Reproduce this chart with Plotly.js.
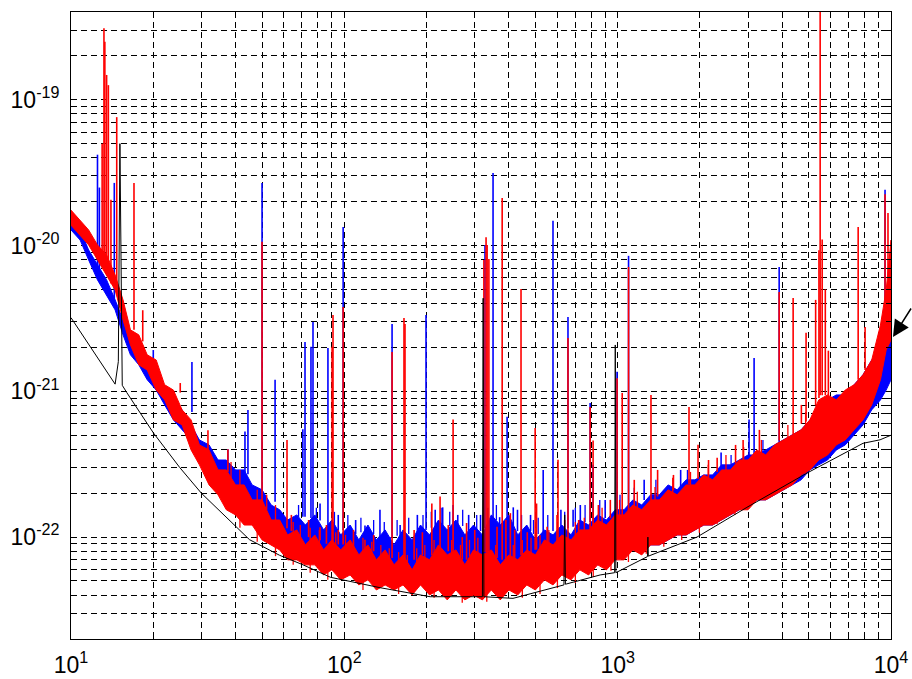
<!DOCTYPE html>
<html>
<head>
<meta charset="utf-8">
<script src="https://cdn.plot.ly/plotly-3.0.1.min.js"></script>
<style>
html,body{margin:0;padding:0;background:#fff;}
#chart{width:912px;height:679px;}
</style>
</head>
<body>
<div id="chart"></div>
<script>
// ---------- data (frequency in Hz, strain amplitude) ----------
// Black: design sensitivity curve
const blackF = [10, 12, 14.5, 14.9, 15.1, 15.4, 16, 20, 25, 30, 40, 45, 58, 70, 89, 135, 206, 314, 320, 322, 324, 414, 631, 636, 640, 644, 863, 975, 980, 985, 1285, 1290, 1295, 1950, 2970, 4930, 7900, 9120, 10000];
const blackA = [3.2e-21, 1.9e-21, 1.12e-21, 1.6e-21, 5.0e-20, 1.1e-21, 9.8e-22, 5.2e-22, 3.0e-22, 2.0e-22, 1.2e-22, 9.6e-23, 7.5e-23, 6.5e-23, 5.3e-23, 4.5e-23, 3.9e-23, 3.9e-23, 3.9e-23, 4.35e-21, 3.9e-23, 3.8e-23, 4.7e-23, 4.7e-23, 1.42e-22, 4.75e-23, 5.5e-23, 5.7e-23, 2.08e-21, 5.7e-23, 7.35e-23, 1.0e-22, 7.4e-23, 1.0e-22, 1.6e-22, 2.75e-22, 4.4e-22, 4.65e-22, 5.0e-22];

// Frequencies at which the noise-floor bands are sampled
const bandF = [10, 10.8, 11.6, 12.5, 13.5, 14.5, 15.5, 16.5, 17.7, 19, 20.5, 22, 23.7, 25.5, 27.5, 29.5, 32, 34.5, 37, 40, 43, 46, 50, 54, 58, 62, 67, 72, 78, 84, 90, 97, 105, 113, 122, 131, 141, 152, 164, 177, 190, 205, 221, 238, 256, 276, 297, 320, 345, 372, 400, 431, 465, 500, 540, 580, 625, 675, 727, 783, 845, 910, 980, 1055, 1137, 1225, 1320, 1420, 1530, 1650, 1780, 1915, 2065, 2225, 2400, 2585, 2785, 3000, 3230, 3480, 3750, 4040, 4350, 4690, 5050, 5440, 5860, 6310, 6800, 7330, 7900, 8500, 9150, 9600, 10000];

// Blue: noise floor band (upper / lower edge)
const blueHi = [1.5e-20, 1.28e-20, 9.33e-21, 7.36e-21, 5.81e-21, 4.24e-21, 3.09e-21, 2.44e-21, 1.92e-21, 1.52e-21, 1.4e-21, 1.02e-21, 8.73e-22, 7.46e-22, 5.88e-22, 4.64e-22, 4.29e-22, 3.38e-22, 3.38e-22, 2.89e-22, 2.89e-22, 2.28e-22, 2.11e-22, 1.66e-22, 1.54e-22, 1.31e-22, 1.42e-22, 1.21e-22, 1.42e-22, 1.12e-22, 1.31e-22, 1.035e-22, 1.21e-22, 9.57e-23, 1.21e-22, 9.57e-23, 1.12e-22, 8.84e-23, 1.12e-22, 9.57e-23, 1.21e-22, 1.035e-22, 1.31e-22, 1.12e-22, 1.31e-22, 1.035e-22, 1.21e-22, 1.035e-22, 1.42e-22, 1.21e-22, 1.42e-22, 1.035e-22, 1.21e-22, 9.57e-23, 1.12e-22, 1.035e-22, 1.21e-22, 1.035e-22, 1.31e-22, 1.21e-22, 1.42e-22, 1.31e-22, 1.54e-22, 1.54e-22, 1.8e-22, 1.66e-22, 1.95e-22, 1.95e-22, 2.28e-22, 2.11e-22, 2.47e-22, 2.47e-22, 2.67e-22, 2.67e-22, 3.13e-22, 3.13e-22, 3.38e-22, 3.66e-22, 3.66e-22, 3.96e-22, 4.29e-22, 4.64e-22, 5.02e-22, 5.44e-22, 6.37e-22, 7.46e-22, 8.73e-22, 9.45e-22, 9.45e-22, 1.11e-21, 1.3e-21, 1.64e-21, 1.92e-21, 2.08e-21, 2.25e-21];
const blueLo = [1.28e-20, 1.09e-20, 7.97e-21, 5.81e-21, 4.58e-21, 3.62e-21, 2.44e-21, 1.78e-21, 1.52e-21, 1.2e-21, 1.02e-21, 8.07e-22, 6.37e-22, 5.44e-22, 4.64e-22, 3.66e-22, 2.89e-22, 2.67e-22, 2.28e-22, 2.11e-22, 1.8e-22, 1.54e-22, 1.42e-22, 1.21e-22, 1.035e-22, 9.57e-23, 8.84e-23, 8.84e-23, 8.17e-23, 8.17e-23, 7.55e-23, 7.55e-23, 7.55e-23, 6.98e-23, 6.98e-23, 6.98e-23, 6.45e-23, 6.45e-23, 5.96e-23, 5.96e-23, 5.96e-23, 5.96e-23, 5.5e-23, 5.5e-23, 5.5e-23, 5.5e-23, 5.5e-23, 5.09e-23, 5.09e-23, 5.5e-23, 5.5e-23, 5.5e-23, 5.5e-23, 5.96e-23, 5.96e-23, 5.96e-23, 6.45e-23, 6.45e-23, 6.45e-23, 6.45e-23, 6.45e-23, 6.98e-23, 6.98e-23, 7.55e-23, 8.17e-23, 8.17e-23, 8.84e-23, 8.84e-23, 9.57e-23, 1.035e-22, 1.035e-22, 1.12e-22, 1.21e-22, 1.21e-22, 1.31e-22, 1.42e-22, 1.54e-22, 1.66e-22, 1.8e-22, 1.8e-22, 1.95e-22, 2.11e-22, 2.28e-22, 2.47e-22, 2.89e-22, 3.13e-22, 3.38e-22, 3.96e-22, 4.29e-22, 5.02e-22, 5.88e-22, 7.46e-22, 8.73e-22, 1.02e-21, 1.2e-21];

// Red: noise floor band (upper / lower edge)
const redHi = [1.75e-20, 1.5e-20, 1.28e-20, 1.01e-20, 8.62e-21, 6.29e-21, 4.24e-21, 2.64e-21, 2.44e-21, 1.78e-21, 1.64e-21, 1.11e-21, 1.02e-21, 7.46e-22, 6.37e-22, 4.29e-22, 3.96e-22, 2.89e-22, 2.89e-22, 2.28e-22, 2.28e-22, 1.8e-22, 1.8e-22, 1.31e-22, 1.31e-22, 1.035e-22, 1.12e-22, 8.84e-23, 1.035e-22, 8.17e-23, 9.57e-23, 8.17e-23, 9.57e-23, 7.55e-23, 8.84e-23, 6.98e-23, 8.17e-23, 6.45e-23, 7.55e-23, 5.96e-23, 7.55e-23, 6.98e-23, 8.84e-23, 7.55e-23, 8.17e-23, 6.45e-23, 8.17e-23, 7.55e-23, 8.17e-23, 6.45e-23, 7.55e-23, 6.98e-23, 8.17e-23, 7.55e-23, 9.57e-23, 8.84e-23, 1.035e-22, 9.57e-23, 1.12e-22, 1.12e-22, 1.31e-22, 1.21e-22, 1.42e-22, 1.42e-22, 1.66e-22, 1.54e-22, 1.8e-22, 1.8e-22, 2.11e-22, 1.95e-22, 2.28e-22, 2.28e-22, 2.67e-22, 2.47e-22, 2.89e-22, 2.89e-22, 3.38e-22, 3.38e-22, 3.96e-22, 3.66e-22, 4.29e-22, 4.64e-22, 5.02e-22, 5.44e-22, 6.37e-22, 8.73e-22, 9.45e-22, 8.73e-22, 1.02e-21, 1.11e-21, 1.3e-21, 1.64e-21, 2.85e-21, 4.96e-21, 1.09e-20];
const redLo = [1.38e-20, 1.18e-20, 1.01e-20, 7.97e-21, 6.29e-21, 4.96e-21, 3.09e-21, 2.08e-21, 1.52e-21, 1.4e-21, 1.02e-21, 8.73e-22, 6.37e-22, 5.88e-22, 3.96e-22, 3.13e-22, 2.28e-22, 1.95e-22, 1.54e-22, 1.42e-22, 1.21e-22, 1.21e-22, 9.57e-23, 8.84e-23, 8.17e-23, 6.98e-23, 6.98e-23, 6.45e-23, 6.45e-23, 5.5e-23, 5.96e-23, 5.09e-23, 5.5e-23, 4.7e-23, 5.09e-23, 4.34e-23, 4.7e-23, 4.34e-23, 4.7e-23, 4.01e-23, 4.7e-23, 4.01e-23, 4.34e-23, 3.71e-23, 4.34e-23, 3.71e-23, 4.01e-23, 3.71e-23, 4.34e-23, 3.71e-23, 4.34e-23, 4.01e-23, 4.7e-23, 4.34e-23, 5.09e-23, 4.7e-23, 5.5e-23, 5.09e-23, 5.96e-23, 5.5e-23, 6.45e-23, 5.96e-23, 6.98e-23, 6.98e-23, 8.17e-23, 7.55e-23, 8.84e-23, 8.84e-23, 9.57e-23, 1.035e-22, 1.035e-22, 1.12e-22, 1.21e-22, 1.21e-22, 1.31e-22, 1.42e-22, 1.54e-22, 1.54e-22, 1.8e-22, 1.8e-22, 1.95e-22, 2.11e-22, 2.28e-22, 2.67e-22, 2.89e-22, 3.38e-22, 3.66e-22, 4.29e-22, 4.64e-22, 5.44e-22, 6.37e-22, 8.07e-22, 1.2e-21, 1.92e-21, 2.25e-21];

// Blue: spectral lines (frequency, peak, foot)
const blueLineF    = [12.5, 12.7, 14.4, 20, 27.7, 37.5, 43.3, 44.4, 50, 55.8, 65, 70.5, 71.8, 75.5, 76.8, 81.5, 87.1, 95, 99, 110, 119, 121, 135, 147, 149.5, 160, 185, 199, 215, 229, 250, 260, 285, 295, 315, 327, 350, 370, 394, 415, 430, 480, 534, 580, 620, 658, 687, 730, 793, 813, 900, 995, 1096, 1250, 1700, 2390, 3025, 3156, 3898, 9510];
const blueLineTop  = [4.2e-20, 2.5e-20, 2.69e-20, 1.92e-21, 1.59e-21, 4.0e-22, 5.3e-22, 7.46e-22, 2.69e-20, 1.2e-21, 1.37e-22, 5.5e-22, 2.18e-21, 2.02e-21, 2.99e-21, 1.7e-22, 1.98e-21, 1.42e-22, 1.34e-20, 1.31e-22, 1.2e-22, 1.17e-22, 1.54e-22, 1.0e-22, 2.9e-21, 1.21e-22, 1.42e-22, 3.34e-21, 1.54e-22, 1.6e-22, 1.66e-22, 1.42e-22, 1.42e-22, 1.15e-22, 1.42e-22, 1.01e-20, 3.15e-20, 1.37e-22, 6.7e-22, 1.6e-22, 1.54e-22, 1.42e-22, 2.89e-22, 1.48e-20, 1.54e-22, 3.24e-21, 1.54e-22, 1.66e-22, 8.3e-22, 3.13e-22, 1.8e-22, 1.36e-21, 8.5e-21, 2.47e-22, 2.89e-22, 3.8e-22, 6.4e-22, 1.69e-21, 7.13e-21, 2.41e-20];
const blueLineFoot = [6.6e-21, 6.3e-21, 4.1e-21, 1.45e-21, 7.2e-22, 3.3e-22, 2.8e-22, 2.7e-22, 2.1e-22, 1.75e-22, 1.3e-22, 1.38e-22, 1.38e-22, 1.35e-22, 1.35e-22, 1.3e-22, 1.2e-22, 1.1e-22, 1.12e-22, 1.05e-22, 1.05e-22, 1.05e-22, 1.0e-22, 9.5e-23, 1.0e-22, 1.0e-22, 1.05e-22, 1.12e-22, 1.1e-22, 1.2e-22, 1.15e-22, 1.1e-22, 1.1e-22, 1.05e-22, 1.1e-22, 1.15e-22, 1.3e-22, 1.2e-22, 1.27e-22, 1.2e-22, 1.1e-22, 1.1e-22, 1.05e-22, 1.1e-22, 1.1e-22, 1.15e-22, 1.18e-22, 1.2e-22, 1.27e-22, 1.28e-22, 1.35e-22, 1.42e-22, 1.6e-22, 1.8e-22, 2.1e-22, 3.0e-22, 3.5e-22, 3.6e-22, 4.5e-22, 2.0e-21];

// Blue: fine noise excursions above the floor (frequency, peak, foot)
const blueFuzzF    = [68, 79, 92, 103, 115, 128, 140, 156, 172, 194, 208, 226, 243, 271, 305, 335, 360, 445, 492, 512, 555, 640, 700, 760, 860, 1020, 1150, 1380, 1800, 2600, 3400];
const blueFuzzTop  = [1.66e-22, 1.59e-22, 1.49e-22, 1.42e-22, 1.36e-22, 1.31e-22, 1.27e-22, 1.31e-22, 1.36e-22, 1.42e-22, 1.49e-22, 1.59e-22, 1.49e-22, 1.54e-22, 1.42e-22, 1.59e-22, 1.66e-22, 1.42e-22, 1.31e-22, 1.36e-22, 1.42e-22, 1.49e-22, 1.59e-22, 1.66e-22, 1.8e-22, 1.95e-22, 2.18e-22, 2.47e-22, 2.89e-22, 3.66e-22, 4.64e-22];
const blueFuzzFoot = [1.37e-22, 1.31e-22, 1.16e-22, 1.12e-22, 1.08e-22, 1.05e-22, 1.02e-22, 1.02e-22, 1.05e-22, 1.12e-22, 1.16e-22, 1.23e-22, 1.19e-22, 1.19e-22, 1.12e-22, 1.23e-22, 1.31e-22, 1.12e-22, 1.05e-22, 1.05e-22, 1.08e-22, 1.16e-22, 1.19e-22, 1.27e-22, 1.36e-22, 1.49e-22, 1.66e-22, 1.89e-22, 2.28e-22, 2.99e-22, 3.78e-22];

// Red: spectral lines (frequency, peak, foot)
const redLineF    = [13.0, 13.2, 13.3, 13.5, 13.7, 14.0, 14.7, 17.0, 18.3, 25.1, 31.7, 37.5, 50, 61.7, 64, 74, 81.5, 86, 90.2, 90.9, 95, 99, 108, 119, 128, 149.5, 165.3, 166.7, 180, 193, 209, 224, 240, 250, 270, 280, 300, 324, 330, 333, 338, 362, 378, 390, 405, 420, 443, 467, 499, 505, 552, 600, 605, 640, 658, 720, 793, 813, 850, 940, 995, 1039, 1096, 1150, 1324, 1400, 1600, 1824, 1968, 2150, 2312, 2700, 2877, 3300, 3898, 4385, 4700, 4890, 5300, 5450, 5506, 5600, 5750, 5900, 7584, 8040, 9510, 9750];
const redLineTop  = [5.0e-20, 3.1e-19, 2.5e-19, 1.48e-19, 1.26e-19, 2.06e-20, 7.6e-20, 2.69e-20, 3.6e-21, 1.14e-21, 5.4e-22, 4.0e-22, 1.06e-20, 4.64e-22, 1.42e-22, 1.31e-22, 1.17e-22, 1.21e-22, 2.02e-21, 3.34e-21, 1.12e-22, 3.79e-21, 1.12e-22, 9.6e-23, 1.035e-22, 1.86e-21, 3.18e-21, 2.9e-21, 1.12e-22, 1.08e-22, 1.7e-22, 1.9e-22, 1.21e-22, 6.4e-22, 1.0e-22, 1.25e-22, 1.12e-22, 7.97e-21, 1.14e-20, 1.01e-20, 8.1e-21, 1.18e-22, 2.12e-20, 1.31e-22, 1.46e-22, 1.12e-22, 5.04e-21, 1.08e-22, 5.6e-22, 1.7e-22, 1.18e-22, 1.42e-22, 3.4e-22, 1.31e-22, 2.32e-21, 1.31e-22, 7.8e-22, 4.6e-22, 1.66e-22, 1.8e-22, 1.23e-21, 9.75e-22, 7.13e-21, 2.47e-22, 9.45e-22, 2.89e-22, 2.67e-22, 7.8e-22, 4.3e-22, 3.38e-22, 3.5e-22, 4.29e-22, 4.64e-22, 5.44e-22, 4.81e-21, 4.37e-21, 8.07e-22, 2.52e-21, 4.24e-21, 9.3e-21, 6.0e-19, 1.1e-20, 5.0e-21, 1.9e-21, 1.34e-20, 2.76e-21, 2.25e-20, 1.67e-20];
const redLineFoot = [7.4e-21, 7.0e-21, 7.0e-21, 6.8e-21, 6.2e-21, 5.5e-21, 4.6e-21, 2.64e-21, 2.2e-21, 9.8e-22, 3.5e-22, 2.8e-22, 1.6e-22, 1.15e-22, 1.1e-22, 1.0e-22, 9.5e-23, 9.0e-23, 9.0e-23, 9.0e-23, 8.9e-23, 8.9e-23, 8.5e-23, 8.2e-23, 8.0e-23, 7.2e-23, 6.5e-23, 6.5e-23, 7.0e-23, 7.5e-23, 7.5e-23, 8.0e-23, 8.0e-23, 7.5e-23, 7.0e-23, 7.0e-23, 7.5e-23, 7.9e-23, 7.9e-23, 7.9e-23, 7.5e-23, 7.2e-23, 7.0e-23, 7.0e-23, 7.0e-23, 7.2e-23, 7.5e-23, 7.5e-23, 8.2e-23, 8.2e-23, 8.6e-23, 9.0e-23, 9.0e-23, 9.3e-23, 9.5e-23, 1.05e-22, 1.15e-22, 1.2e-22, 1.3e-22, 1.35e-22, 1.38e-22, 1.4e-22, 1.5e-22, 1.6e-22, 1.8e-22, 1.9e-22, 2.1e-22, 2.3e-22, 2.5e-22, 2.6e-22, 2.8e-22, 3.2e-22, 3.4e-22, 3.8e-22, 4.6e-22, 5.1e-22, 6.0e-22, 6.2e-22, 8.0e-22, 9.0e-22, 9.4e-22, 9.4e-22, 9.4e-22, 9.4e-22, 1.2e-21, 1.4e-21, 4.3e-21, 6.0e-21];

// Red: fine noise excursions above and below the floor (frequency, tip, foot)
const redFuzzUpF    = [38.5, 41.5, 48, 52, 56, 65, 69, 75, 81, 93, 101, 117, 126, 136, 146, 158, 170, 184, 197, 213, 247, 266, 287, 308, 358, 415, 448, 482, 520, 560, 700, 755, 814, 877, 1016, 1180, 1370, 1590, 1847, 2145, 2490, 2890, 3355, 4195, 4870];
const redFuzzUpTop  = [3.28e-22, 2.89e-22, 2.11e-22, 1.95e-22, 1.66e-22, 1.27e-22, 1.21e-22, 1.16e-22, 1.12e-22, 1.08e-22, 1.035e-22, 9.9e-23, 9.3e-23, 8.84e-23, 8.4e-23, 7.9e-23, 7.55e-23, 8.4e-23, 8.84e-23, 9.57e-23, 9.57e-23, 8.84e-23, 9.57e-23, 9.9e-23, 8.84e-23, 8.84e-23, 9.57e-23, 9.9e-23, 1.035e-22, 1.12e-22, 1.27e-22, 1.36e-22, 1.49e-22, 1.59e-22, 1.8e-22, 2.05e-22, 2.21e-22, 2.55e-22, 2.8e-22, 3.13e-22, 3.66e-22, 4.15e-22, 4.64e-22, 5.88e-22, 7.2e-22];
const redFuzzUpFoot = [2.47e-22, 2.11e-22, 1.66e-22, 1.54e-22, 1.27e-22, 1.0e-22, 9.57e-23, 9.1e-23, 8.84e-23, 8.4e-23, 8.4e-23, 7.8e-23, 7.3e-23, 6.98e-23, 6.7e-23, 6.35e-23, 6.15e-23, 6.45e-23, 6.98e-23, 7.55e-23, 7.55e-23, 7.2e-23, 7.4e-23, 7.8e-23, 6.98e-23, 6.75e-23, 7.3e-23, 7.8e-23, 8.17e-23, 8.84e-23, 1.0e-22, 1.08e-22, 1.17e-22, 1.25e-22, 1.4e-22, 1.59e-22, 1.75e-22, 1.98e-22, 2.25e-22, 2.5e-22, 2.85e-22, 3.28e-22, 3.66e-22, 4.64e-22, 5.6e-22];
const redFuzzDnF    = [41.5, 48, 56, 65, 75, 87, 117, 158, 213, 270, 332, 448, 520, 602, 700, 814, 945, 1095, 1272, 1475, 1715, 1990, 2310, 2685, 3115, 3615, 4195, 4870];
const redFuzzDnTip  = [1.16e-22, 9.3e-23, 7.4e-23, 6.45e-23, 5.7e-23, 5.09e-23, 4.34e-23, 4.07e-23, 3.83e-23, 3.54e-23, 3.6e-23, 3.83e-23, 4.07e-23, 4.47e-23, 4.85e-23, 5.33e-23, 5.87e-23, 6.75e-23, 7.7e-23, 8.6e-23, 9.57e-23, 1.07e-22, 1.23e-22, 1.42e-22, 1.69e-22, 1.95e-22, 2.28e-22, 2.71e-22];
const redFuzzDnFoot = [1.42e-22, 1.12e-22, 8.84e-23, 7.55e-23, 6.7e-23, 5.8e-23, 5.09e-23, 4.7e-23, 4.34e-23, 4.2e-23, 4.2e-23, 4.47e-23, 4.77e-23, 5.25e-23, 5.7e-23, 6.35e-23, 6.98e-23, 7.9e-23, 8.84e-23, 9.9e-23, 1.1e-22, 1.21e-22, 1.4e-22, 1.61e-22, 1.92e-22, 2.21e-22, 2.59e-22, 3.13e-22];

// Axis ticks
const xDecades = [1, 2, 3, 4];
const yDecades = [-22, -21, -20, -19];
const xTickLabels = ['10<sup>1</sup>', '10<sup>2</sup>', '10<sup>3</sup>', '10<sup>4</sup>'];
const yTickLabels = ['10<sup>-22</sup>', '10<sup>-21</sup>', '10<sup>-20</sup>', '10<sup>-19</sup>'];
const mantissas = [1, 2, 3, 4, 5, 6, 7, 8, 9];

// ---------- build traces ----------
function band(F, hi, lo, color) {
  return {
    x: F.concat(F.slice().reverse()),
    y: hi.concat(lo.slice().reverse()),
    type: 'scatter', mode: 'lines', fill: 'toself',
    fillcolor: color, line: {color: color, width: 1},
    hoverinfo: 'skip'
  };
}
function lines(F, top, foot, color, w) {
  const x = [], y = [];
  for (let i = 0; i < F.length; i++) {
    x.push(F[i], F[i], null);
    y.push(foot[i], top[i], null);
  }
  return {x: x, y: y, type: 'scatter', mode: 'lines',
          line: {color: color, width: w}, hoverinfo: 'skip', connectgaps: false};
}

const traces = [
  band(bandF, blueHi, blueLo, '#0000ff'),
  lines(blueFuzzF, blueFuzzTop, blueFuzzFoot, '#0000ff', 1.3),
  lines(blueLineF, blueLineTop, blueLineFoot, '#0000ff', 1.6),
  band(bandF, redHi, redLo, '#ff0000'),
  lines(redFuzzUpF, redFuzzUpTop, redFuzzUpFoot, '#ff0000', 1.3),
  lines(redFuzzDnF, redFuzzDnTip, redFuzzDnFoot, '#ff0000', 1.3),
  lines(redLineF, redLineTop, redLineFoot, '#ff0000', 1.6),
  {x: blackF, y: blackA, type: 'scatter', mode: 'lines',
   line: {color: '#000000', width: 1}, hoverinfo: 'skip'}
];

// tick values (every mantissa → dashed grid; decade → label)
const xTickVals = [], xTickText = [];
xDecades.forEach((d, i) => {
  if (i < xDecades.length - 1) {
    mantissas.forEach(m => {
      xTickVals.push(m * Math.pow(10, d));
      xTickText.push(m === 1 ? xTickLabels[i] : '');
    });
  } else {
    xTickVals.push(Math.pow(10, d));
    xTickText.push(xTickLabels[i]);
  }
});
const yTickVals = [], yTickText = [];
[-23].concat(yDecades).forEach(d => {
  mantissas.forEach(m => {
    const v = m * Math.pow(10, d);
    if (v >= 2e-23 && v <= 4e-19) {
      yTickVals.push(v);
      const k = yDecades.indexOf(d);
      yTickText.push(m === 1 && k >= 0 ? yTickLabels[k] : '');
    }
  });
});

const axisCommon = {
  type: 'log',
  showgrid: true, gridcolor: '#000000', gridwidth: 1, griddash: '6px,4px',
  showline: true, linecolor: '#000000', linewidth: 1, mirror: 'allticks',
  ticks: 'inside', ticklen: 5, tickcolor: '#000000', tickwidth: 1,
  tickmode: 'array', zeroline: false,
  tickfont: {family: 'Liberation Sans, Arial, sans-serif', size: 23, color: '#000000'}
};

const layout = {
  width: 912, height: 679,
  margin: {l: 71, r: 21, t: 12, b: 40, pad: 0},
  paper_bgcolor: '#ffffff', plot_bgcolor: '#ffffff',
  showlegend: false,
  xaxis: Object.assign({}, axisCommon, {
    range: [1, 4], tickvals: xTickVals, ticktext: xTickText, ticklabelstandoff: 5
  }),
  yaxis: Object.assign({}, axisCommon, {
    range: [Math.log10(2e-23), Math.log10(4e-19)], tickvals: yTickVals, ticktext: yTickText,
    ticklabelstandoff: 6
  }),
  annotations: [{
    xref: 'paper', yref: 'paper', x: 1.0024, y: 0.4817,
    text: '', showarrow: true, arrowhead: 2, arrowsize: 2.2, arrowwidth: 1.5,
    arrowcolor: '#000000', ax: 24, ay: -30
  }]
};

Plotly.newPlot('chart', traces, layout, {displayModeBar: false, staticPlot: true});
</script>
</body>
</html>
